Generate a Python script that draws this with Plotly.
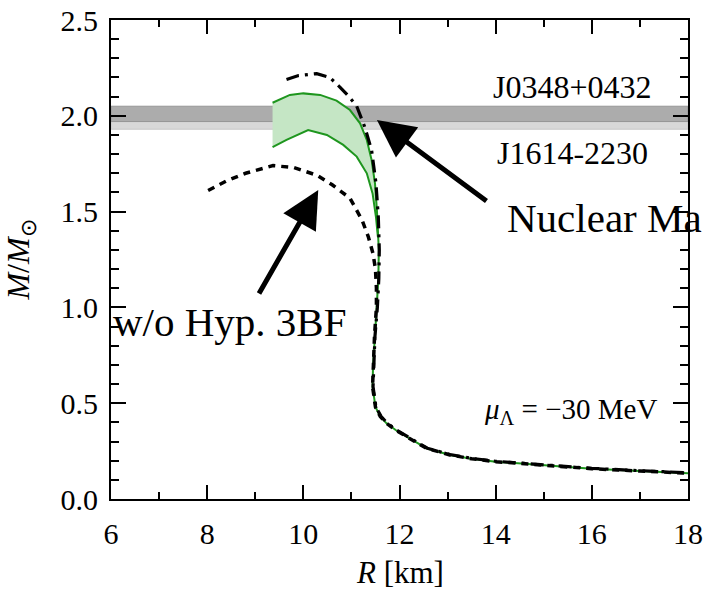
import plotly.graph_objects as go

# ---------------- data ----------------
# upper edge of the green band (with hyperon 3BF), km / Msun
band_upper_R = [9.36, 9.72, 10.0, 10.35, 10.69, 10.97, 11.18, 11.32, 11.42, 11.49, 11.53, 11.55]
band_upper_M = [2.068, 2.109, 2.117, 2.109, 2.079, 2.030, 1.961, 1.874, 1.769, 1.648, 1.508, 1.369]
# lower edge of the green band
band_lower_R = [9.36, 9.65, 10.10, 10.49, 10.83, 11.11, 11.32, 11.44, 11.51, 11.55]
band_lower_M = [1.836, 1.874, 1.926, 1.900, 1.848, 1.787, 1.70, 1.595, 1.473, 1.369]
# common trunk of the green curve (low mass branch)
trunk_R = [11.57, 11.56, 11.53, 11.49, 11.45, 11.44, 11.50, 11.60, 11.73, 11.92, 12.15, 12.56,
           13.05, 13.5, 14.0, 15.0, 16.0, 17.0, 18.0]
trunk_M = [1.30, 1.15, 1.00, 0.85, 0.70, 0.586, 0.48, 0.43, 0.395, 0.36, 0.325, 0.265,
           0.23, 0.21, 0.195, 0.175, 0.158, 0.146, 0.135]

# nuclear matter (dash-dot)
nm_R = [9.65, 9.9, 10.28, 10.55, 10.76, 10.95, 11.11, 11.28, 11.42, 11.51, 11.56, 11.58,
        11.57, 11.54, 11.49, 11.46, 11.45, 11.51, 11.62, 11.75, 11.94, 12.17, 12.58,
        13.05, 13.5, 14.0, 15.0, 16.0, 17.0, 18.0]
nm_M = [2.19, 2.21, 2.22, 2.20, 2.15, 2.10, 2.05, 1.94, 1.82, 1.65, 1.47, 1.30,
        1.15, 1.00, 0.85, 0.70, 0.586, 0.48, 0.43, 0.395, 0.36, 0.325, 0.265,
        0.232, 0.212, 0.197, 0.177, 0.160, 0.148, 0.137]

# without hyperon 3BF (dotted)
wo_R = [8.02, 8.4, 8.8, 9.37, 9.8, 10.28, 10.6, 10.97, 11.22, 11.35, 11.45, 11.50, 11.52,
        11.52, 11.48, 11.45, 11.44, 11.50, 11.60, 11.73, 11.92, 12.15, 12.56,
        13.05, 13.5, 14.0, 15.0, 16.0, 17.0, 18.0]
wo_M = [1.61, 1.66, 1.70, 1.74, 1.73, 1.69, 1.64, 1.57, 1.456, 1.37, 1.28, 1.20, 1.10,
        1.00, 0.85, 0.70, 0.586, 0.48, 0.43, 0.395, 0.36, 0.325, 0.265,
        0.23, 0.21, 0.195, 0.175, 0.158, 0.146, 0.135]

# pulsar mass bands (M, +/- error)
j1614_mass, j1614_err = 1.97, 0.04
j0348_mass, j0348_err = 2.01, 0.04

x_ticks = [6, 8, 10, 12, 14, 16, 18]
y_ticks = [0.0, 0.5, 1.0, 1.5, 2.0, 2.5]
y_tick_text = ["0.0", "0.5", "1.0", "1.5", "2.0", "2.5"]

FONT = "Liberation Serif"
GREEN = "rgb(30,150,30)"
GREEN_FILL = "rgb(197,230,197)"

FIG_W, FIG_H = 705, 590
M_L, M_R, M_T, M_B = 111, 17, 20, 91
PLOT_H = FIG_H - M_T - M_B

fig = go.Figure()

# pulsar bands
fig.add_shape(type="rect", xref="x", yref="y", x0=6, x1=18,
              y0=j1614_mass - j1614_err, y1=j1614_mass + j1614_err,
              fillcolor="rgb(216,216,216)", line=dict(color="rgb(200,200,200)", width=1), layer="below")
fig.add_shape(type="rect", xref="x", yref="y", x0=6, x1=18,
              y0=j0348_mass - j0348_err, y1=j0348_mass + j0348_err,
              fillcolor="rgb(172,172,172)", line=dict(color="rgb(150,150,150)", width=1), layer="below")

# green band fill
fig.add_trace(go.Scatter(
    x=band_upper_R + band_lower_R[::-1], y=band_upper_M + band_lower_M[::-1],
    fill="toself", fillcolor=GREEN_FILL, mode="none", hoverinfo="skip", showlegend=False))
# green lines
fig.add_trace(go.Scatter(x=band_upper_R + trunk_R, y=band_upper_M + trunk_M, mode="lines",
                         line=dict(color=GREEN, width=2), showlegend=False))
fig.add_trace(go.Scatter(x=band_lower_R, y=band_lower_M, mode="lines",
                         line=dict(color=GREEN, width=2), showlegend=False))
# nuclear matter dash-dot
fig.add_trace(go.Scatter(x=nm_R, y=nm_M, mode="lines",
                         line=dict(color="black", width=3.2, dash="13px,6px,3px,6px"), showlegend=False))
# w/o hyperon 3BF dotted
fig.add_trace(go.Scatter(x=wo_R, y=wo_M, mode="lines",
                         line=dict(color="black", width=3.5, dash="7px,6px"), showlegend=False))

ann = []
ann.append(dict(x=15.59, y=2.15, text="J0348+0432", showarrow=False, xanchor="center", yanchor="middle",
                font=dict(family=FONT, size=32, color="black")))
ann.append(dict(x=15.59, y=1.806, text="J1614-2230", showarrow=False, xanchor="center", yanchor="middle",
                font=dict(family=FONT, size=32, color="black")))
ann.append(dict(x=15.55, y=0.459, text="<i>μ</i><sub>Λ</sub> = −30 MeV", showarrow=False,
                xanchor="center", yanchor="middle", font=dict(family=FONT, size=29, color="black")))
ann.append(dict(x=14.19, y=1.466, text="Nuclear Ma", showarrow=False, xanchor="left", yanchor="middle",
                font=dict(family=FONT, size=41, color="black")))
ann.append(dict(x=6.0, y=0.924, text="w/o Hyp. 3BF", showarrow=False, xanchor="left", yanchor="middle",
                font=dict(family=FONT, size=41, color="black")))
# arrows
ann.append(dict(x=11.53, y=1.978, ax=13.84, ay=1.55, xref="x", yref="y", axref="x", ayref="y",
                text="", showarrow=True, arrowhead=2, arrowsize=1.5, arrowwidth=5, arrowcolor="black"))
ann.append(dict(x=10.31, y=1.613, ax=9.06, ay=1.065, xref="x", yref="y", axref="x", ayref="y",
                text="", showarrow=True, arrowhead=2, arrowsize=1.5, arrowwidth=5, arrowcolor="black"))
# x axis title (annotation, centred on row 572 of the page)
ann.append(dict(x=0.5, y=(FIG_H - M_B - 572) / PLOT_H, xref="paper", yref="paper",
                text="<i>R</i> [km]", showarrow=False,
                xanchor="center", yanchor="middle", font=dict(family=FONT, size=31, color="black")))

fig.update_layout(
    template="none",
    width=FIG_W, height=FIG_H,
    margin=dict(l=M_L, r=M_R, t=M_T, b=M_B, autoexpand=False),
    paper_bgcolor="white", plot_bgcolor="white",
    font=dict(family=FONT, color="black"),
    showlegend=False,
    annotations=ann,
)

fig.update_xaxes(
    range=[6, 18], tickvals=x_ticks, ticks="inside", ticklen=14, tickwidth=1.6, tickcolor="black",
    minor=dict(dtick=1, ticklen=7, ticks="inside", tickwidth=1.6, tickcolor="black", showgrid=False),
    showline=True, linecolor="black", linewidth=2, mirror="ticks", showgrid=False, zeroline=False,
    automargin=False, ticklabeloverflow="allow",
    tickfont=dict(family=FONT, size=30, color="black"), ticklabelstandoff=7,
)
fig.update_yaxes(
    range=[0, 2.5], tickvals=y_ticks, ticktext=y_tick_text, ticks="inside", ticklen=15, tickwidth=1.6,
    tickcolor="black",
    minor=dict(dtick=0.1, ticklen=8, ticks="inside", tickwidth=1.6, tickcolor="black", showgrid=False),
    showline=True, linecolor="black", linewidth=2, mirror="ticks", showgrid=False, zeroline=False,
    automargin=False, ticklabeloverflow="allow",
    tickfont=dict(family=FONT, size=30, color="black"), ticklabelstandoff=5,
    title=dict(text="<i>M</i>/<i>M</i><sub>⊙</sub>", font=dict(family=FONT, size=32, color="black"),
               standoff=22),
)

# remove the browser's default 8px page margin so the figure fills the window exactly
fig.write_html("out.html", config={"displayModeBar": False},
               post_script="document.body.style.margin='0';document.body.style.overflow='hidden';")
